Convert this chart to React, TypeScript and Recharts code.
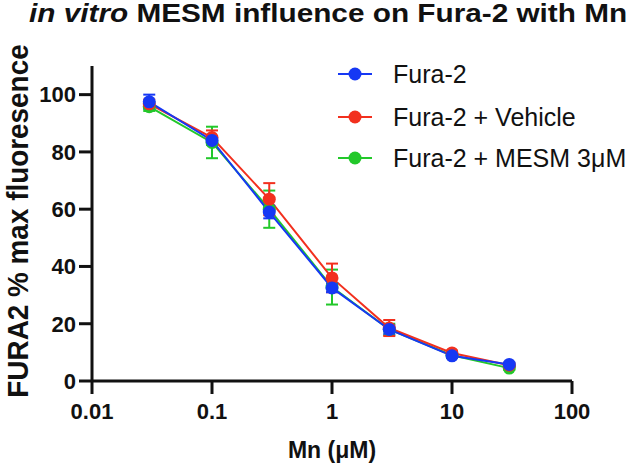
import { LineChart, Line, XAxis, YAxis, ErrorBar, Label } from 'recharts'

const doses = [0.03, 0.1, 0.3, 1, 3, 10, 30]
const fura = [97.5, 84, 59, 32.5, 18, 8.8, 5.8]
const furaErr = [2.5, 1.5, 2.2, 1.5, 1.5, 0.8, 0.6]
const vehicle = [96.8, 85, 63.5, 36, 18.5, 9.8, 5.5]
const vehicleErr = [1.5, 2.5, 5.6, 5, 2.8, 0.8, 0.6]
const mesm = [95.8, 83.3, 60, 32.8, 18, 9, 4.5]
const mesmErr = [1.5, 5.5, 6.5, 6.1, 2, 0.8, 0.6]

const xTicks = [0.01, 0.1, 1, 10, 100]
const yTicks = [0, 20, 40, 60, 80, 100]

const series = [
  { key: 'mesm', name: 'Fura-2 + MESM 3\u03bcM', color: '#22c82a' },
  { key: 'vehicle', name: 'Fura-2 + Vehicle', color: '#f2301e' },
  { key: 'fura', name: 'Fura-2', color: '#1638f4' },
]
const legendOrder = ['fura', 'vehicle', 'mesm']

const data = doses.map((x, i) => ({
  x,
  fura: fura[i],
  furaErr: furaErr[i],
  vehicle: vehicle[i],
  vehicleErr: vehicleErr[i],
  mesm: mesm[i],
  mesmErr: mesmErr[i],
}))

const font = '"Liberation Sans", Arial, sans-serif'
const tickStyle = { fontSize: 22, fontWeight: 'bold' as const, fill: '#111', fontFamily: font }

export default function App() {
  return (
    <div style={{ position: 'absolute', left: 0, top: 0, width: 633, height: 465, background: '#fff', fontFamily: font }}>
      <LineChart width={633} height={465} data={data} margin={{ top: 66, right: 61, left: 0, bottom: 0 }}>
        <XAxis
          dataKey="x"
          type="number"
          scale="log"
          domain={[0.01, 100]}
          ticks={xTicks}
          allowDataOverflow
          height={84}
          tick={tickStyle}
          tickSize={13}
          tickMargin={9}
          axisLine={{ stroke: '#111', strokeWidth: 3 }}
          tickLine={{ stroke: '#111', strokeWidth: 3 }}
        >
          <Label value="Mn (&#956;M)" position="insideBottom" offset={7} style={{ fontSize: 23, fontWeight: 'bold', fill: '#111', fontFamily: font }} />
        </XAxis>
        <YAxis
          type="number"
          domain={[0, 110]}
          ticks={yTicks}
          width={92}
          tick={tickStyle}
          tickSize={13}
          tickMargin={3}
          axisLine={{ stroke: '#111', strokeWidth: 3 }}
          tickLine={{ stroke: '#111', strokeWidth: 3 }}
        />
        {series.map((s) => (
          <Line
            key={s.key}
            dataKey={s.key}
            name={s.name}
            stroke={s.color}
            strokeWidth={2}
            dot={{ r: 6.5, fill: s.color, stroke: s.color, strokeWidth: 0 }}
            activeDot={false}
            isAnimationActive={false}
          >
            <ErrorBar dataKey={`${s.key}Err`} direction="y" width={6} stroke={s.color} strokeWidth={2} />
          </Line>
        ))}
      </LineChart>
      <svg width={633} height={465} style={{ position: 'absolute', left: 0, top: 0, pointerEvents: 'none' }}>
        <text transform="translate(29,22) scale(1.19,1)" fontSize={25} fontWeight="bold" fill="#111" fontFamily={font}>
          <tspan fontStyle="italic">in vitro</tspan> MESM influence on Fura-2 with Mn
        </text>
        <text transform="translate(28,221) rotate(-90) scale(0.93,1)" textAnchor="middle" fontSize={30} fontWeight="bold" fill="#111" fontFamily={font}>
          FURA2 % max fluoresence
        </text>
        {legendOrder.map((k, i) => {
          const s = series.find((d) => d.key === k)!
          const y = [74, 117, 158][i]
          return (
            <g key={k}>
              <line x1={338} x2={372} y1={y} y2={y} stroke={s.color} strokeWidth={2} />
              <circle cx={355} cy={y} r={6.5} fill={s.color} />
              <text x={393} y={y + 9} fontSize={25} fill="#111" fontFamily={font}>
                {s.name}
              </text>
            </g>
          )
        })}
      </svg>
    </div>
  )
}
